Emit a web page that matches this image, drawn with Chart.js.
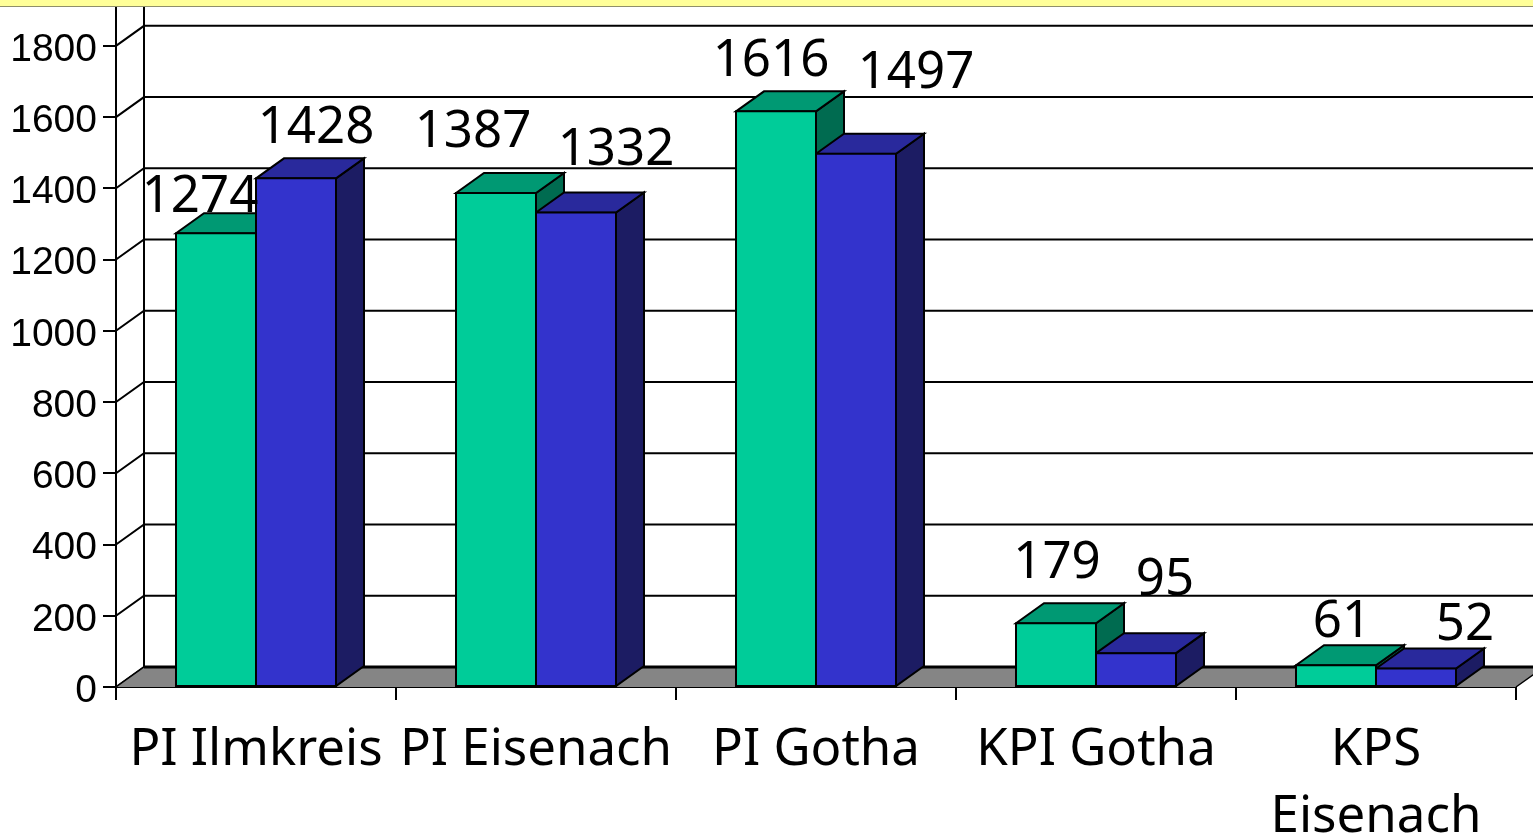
<!DOCTYPE html>
<html>
<head>
<meta charset="utf-8">
<title>PI Vergleich</title>
<script src="https://cdn.jsdelivr.net/npm/chart.js@4/dist/chart.umd.min.js"></script>
<style>
    html, body { margin: 0; padding: 0; background: #fff; overflow: hidden; }
    #topbar { position: absolute; left: 0; top: 0; width: 1533px; height: 6px; background: #ffff99; border-bottom: 1px solid #8f8f6a; }
    #chart { position: absolute; left: 0; top: 0; }
</style>
</head>
<body>
<canvas id="chart" width="1533" height="838"></canvas>
<div id="topbar"></div>
<script>
const categories = ['PI Ilmkreis', 'PI Eisenach', 'PI Gotha', 'KPI Gotha', ['KPS', 'Eisenach']];
const seriesGreen = [1274, 1387, 1616, 179, 61];
const seriesBlue = [1428, 1332, 1497, 95, 52];

// depth of the fake 3D box
const DX = 28;
const DY = -20;

// hand placed value labels, the original has them dragged around (offset from bar top centre)
const greenLabelShift = [[-16, -36], [-23, -60], [-5, -50], [1, -60], [6, -43]];
const blueLabelShift = [[20, -50], [40, -62], [60, -80], [29, -73], [49, -43]];

function poly(ctx, pts, fill) {
    ctx.beginPath();
    ctx.moveTo(pts[0][0], pts[0][1]);
    for (let i = 1; i < pts.length; i++) ctx.lineTo(pts[i][0], pts[i][1]);
    ctx.closePath();
    ctx.fillStyle = fill;
    ctx.fill();
    ctx.strokeStyle = '#000';
    ctx.lineWidth = 2;
    ctx.stroke();
}

function drawBox(ctx, bar, topColor, sideColor) {
    const l = bar.x - bar.width / 2;
    const r = bar.x + bar.width / 2;
    poly(ctx, [[r, bar.y], [r + DX, bar.y + DY], [r + DX, bar.base + DY], [r, bar.base]], sideColor);
    poly(ctx, [[l, bar.y], [l + DX, bar.y + DY], [r + DX, bar.y + DY], [r, bar.y]], topColor);
}

const box3d = {
    id: 'box3d',
    beforeDatasetsDraw(chart) {
        const ctx = chart.ctx;
        const x = chart.scales.x;
        const y = chart.scales.y;
        const base = y.getPixelForValue(0);
        const canvasRight = chart.width;

        ctx.save();
        ctx.lineCap = 'butt';

        // back wall: gridlines, left edge and the diagonals up from the axis ticks
        ctx.strokeStyle = '#000';
        ctx.lineWidth = 2;
        y.ticks.forEach(t => {
            const py = y.getPixelForValue(t.value);
            ctx.beginPath();
            ctx.moveTo(x.left, py);
            ctx.lineTo(x.left + DX, py + DY);
            ctx.lineTo(canvasRight, py + DY);
            ctx.stroke();
        });
        ctx.beginPath();
        ctx.moveTo(x.left + DX, y.top);
        ctx.lineTo(x.left + DX, base + DY);
        ctx.stroke();

        // floor
        ctx.fillStyle = '#858585';
        ctx.beginPath();
        ctx.moveTo(x.left, base);
        ctx.lineTo(x.left + DX, base + DY);
        ctx.lineTo(x.right + DX, base + DY);
        ctx.lineTo(x.right, base);
        ctx.closePath();
        ctx.fill();
        ctx.lineWidth = 1.5;
        ctx.beginPath();
        ctx.moveTo(x.left, base);
        ctx.lineTo(x.left + DX, base + DY);
        ctx.moveTo(x.right, base);
        ctx.lineTo(x.right + DX, base + DY);
        ctx.stroke();
        ctx.lineWidth = 3;
        ctx.beginPath();
        ctx.moveTo(x.left + DX, base + DY);
        ctx.lineTo(canvasRight, base + DY);
        ctx.stroke();

        // sides and tops, green first so blue sits in front of it
        const greenBars = chart.getDatasetMeta(0).data;
        const blueBars = chart.getDatasetMeta(1).data;
        greenBars.forEach((bar, i) => {
            drawBox(ctx, bar, '#009973', '#006b50');
            drawBox(ctx, blueBars[i], '#29299c', '#1c1c63');
        });
        ctx.restore();
    },
    afterDatasetsDraw(chart) {
        const ctx = chart.ctx;
        ctx.save();
        ctx.font = '51px "Noto Sans"';
        ctx.fillStyle = '#000';
        ctx.textAlign = 'center';
        ctx.textBaseline = 'middle';
        chart.getDatasetMeta(0).data.forEach((bar, i) => {
            ctx.fillText(seriesGreen[i], bar.x + greenLabelShift[i][0], bar.y + greenLabelShift[i][1]);
        });
        chart.getDatasetMeta(1).data.forEach((bar, i) => {
            ctx.fillText(seriesBlue[i], bar.x + blueLabelShift[i][0], bar.y + blueLabelShift[i][1]);
        });
        ctx.restore();
    }
};

// the plot box is pinned, labels must not push it around
function pinScale(scale) {
    scale.paddingTop = 0;
    scale.paddingBottom = 0;
    scale.paddingLeft = 0;
    scale.paddingRight = 0;
}

new Chart(document.getElementById('chart').getContext('2d'), {
    type: 'bar',
    data: {
        labels: categories,
        datasets: [
            { data: seriesGreen, backgroundColor: '#00cc99', borderColor: '#000', borderWidth: 2, borderSkipped: false, inflateAmount: 1 },
            { data: seriesBlue, backgroundColor: '#3333cc', borderColor: '#000', borderWidth: 2, borderSkipped: false, inflateAmount: 1 }
        ]
    },
    options: {
        responsive: false,
        animation: false,
        events: [],
        categoryPercentage: 160 / 280,
        barPercentage: 1,
        layout: { padding: { top: 7, right: 17, left: 0, bottom: 0 } },
        plugins: { legend: { display: false }, tooltip: { enabled: false } },
        scales: {
            x: {
                afterFit(scale) { scale.height = 151; pinScale(scale); },
                border: { display: true, color: '#000', width: 2 },
                grid: { drawOnChartArea: false, drawTicks: true, tickLength: 13, color: '#000', lineWidth: 2 },
                ticks: {
                    color: '#000',
                    font: { family: '"Noto Sans"', size: 51, lineHeight: 1.31 },
                    padding: 17,
                    autoSkip: false,
                    maxRotation: 0
                }
            },
            y: {
                min: 0,
                max: 1909,
                afterFit(scale) { scale.width = 116; pinScale(scale); },
                border: { display: true, color: '#000', width: 2 },
                grid: { drawOnChartArea: false, drawTicks: true, tickLength: 13, color: '#000', lineWidth: 2 },
                ticks: {
                    stepSize: 200,
                    includeBounds: false,
                    color: '#000',
                    font: { family: '"Liberation Sans"', size: 39 },
                    padding: 6,
                    labelOffset: 4,
                    callback: v => String(v)
                }
            }
        }
    },
    plugins: [box3d]
});
</script>
</body>
</html>
